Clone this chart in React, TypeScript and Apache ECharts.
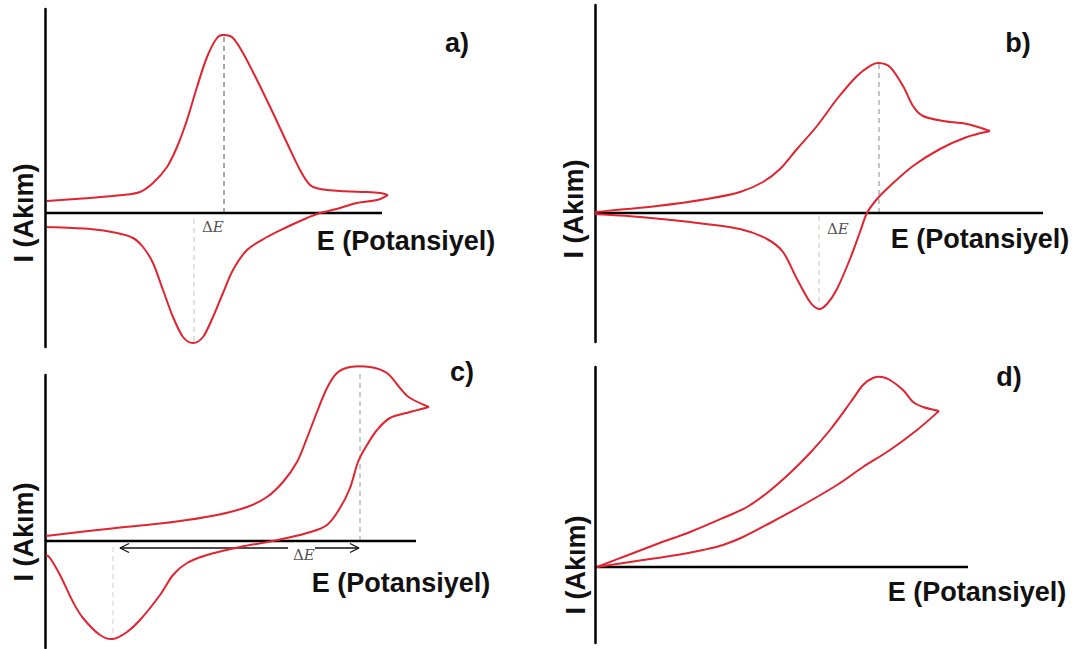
import React, { useEffect, useRef } from "react";
import * as echarts from "echarts";

// Panel a (units: arbitrary potential / current, origin at axis crossing)
const aForward = [[2,12],[45,15],[78,18],[95,21],[108,30],[122,46],[132,66],[142,93],[152,126],[162,156],[172,175],[179,178],[188,175],[198,160],[212,133],[228,100],[242,70],[255,43],[265,28],[275,24],[295,22],[322,21],[335,20],[343,18]];
const aReverse = [[343,18],[332,13],[312,10],[295,5],[275,0],[262,-5],[242,-14],[222,-24],[202,-37],[188,-57],[178,-80],[168,-104],[158,-124],[148,-130],[138,-124],[128,-104],[118,-77],[108,-50],[98,-34],[88,-25],[72,-20],[45,-16],[2,-14]];
const aPeakOx = [[179,0],[179,178]];
const aPeakRed = [[149,-6],[149,-130]];
const aDeltaE = [[157,-14]];
const aAxisEnd = 337;

// Panel b
const bForward = [[0,1],[62,7],[112,14],[145,21],[168,31],[185,44],[202,64],[222,87],[242,114],[262,137],[275,147],[283,150],[295,146],[308,127],[318,107],[328,97],[348,92],[372,89],[395,82]];
const bReverse = [[395,82],[372,76],[345,64],[318,47],[295,27],[282,14],[272,0],[265,-19],[255,-46],[242,-76],[232,-91],[224,-96],[215,-89],[202,-66],[188,-39],[172,-26],[145,-16],[95,-9],[45,-4],[0,-1]];
const bPeakOx = [[284,0],[284,149]];
const bPeakRed = [[224,-3],[224,-96]];
const bDeltaE = [[232,-16]];
const bAxisEnd = 448;

// Panel c
const cForward = [[1,5],[62,12],[128,19],[172,26],[202,34],[222,44],[238,59],[252,79],[262,103],[272,129],[282,153],[292,168],[305,174],[325,174],[342,168],[355,153],[365,143],[384,134]];
const cReverse = [[384,134],[365,129],[345,123],[332,111],[322,96],[313,79],[305,53],[295,33],[282,16],[262,8],[228,0],[195,-6],[162,-14],[142,-22],[128,-34],[115,-54],[95,-79],[82,-91],[68,-98],[55,-94],[38,-77],[28,-61],[15,-34],[5,-17],[1,-14]];
const cPeakOx = [[315,0],[315,168]];
const cPeakRed = [[68,-6],[68,-97]];
const cArrowLeft = [[75,-7],[243,-7]];
const cArrowRight = [[270,-7],[314,-7]];
const cDeltaE = [[248,-14]];
const cAxisEnd = 371;

// Panel d
const dForward = [[2,0],[28,10],[62,23],[95,35],[128,49],[152,60],[172,74],[195,94],[215,114],[235,137],[255,164],[268,182],[278,189],[287,190],[295,187],[308,177],[318,165],[328,160],[344,156]];
const dReverse = [[344,156],[322,137],[295,117],[268,100],[242,82],[208,62],[175,44],[148,30],[128,22],[108,17],[82,12],[48,7],[15,2],[2,0]];
const dAxisEnd = 373;

const panelLetters = ["a)", "b)", "c)", "d)"];
const xTitle = "E (Potansiyel)";
const yTitle = "I (Akım)";

function splinePath(pts: number[][]): string {
  const n = pts.length;
  let d = `M${pts[0][0]},${pts[0][1]}`;
  for (let i = 0; i < n - 1; i++) {
    const p0 = pts[Math.max(i - 1, 0)];
    const p1 = pts[i];
    const p2 = pts[i + 1];
    const p3 = pts[Math.min(i + 2, n - 1)];
    const c1x = p1[0] + (p2[0] - p0[0]) / 6;
    const c1y = p1[1] + (p2[1] - p0[1]) / 6;
    const c2x = p2[0] - (p3[0] - p1[0]) / 6;
    const c2y = p2[1] - (p3[1] - p1[1]) / 6;
    d += ` C${c1x},${c1y} ${c2x},${c2y} ${p2[0]},${p2[1]}`;
  }
  return d;
}

export default function App() {
  const ref = useRef<HTMLDivElement>(null);
  useEffect(() => {
    const chart = echarts.init(ref.current!, null, { renderer: "svg" });
    const RED = "#e02430";
    const axisEnds = [aAxisEnd, bAxisEnd, cAxisEnd, dAxisEnd];
    const xMax = [360, 460, 400, 390];
    const grids = [
      { left: 45, top: 9, width: 360, height: 338 },
      { left: 595, top: 5, width: 460, height: 337 },
      { left: 45, top: 375, width: 400, height: 273 },
      { left: 595, top: 367, width: 390, height: 276 },
    ];
    const yRange = [[-134, 204], [-129, 208], [-107, 166], [-76, 200]];
    const xAxis = grids.map((_, i) => ({
      type: "value", gridIndex: i, min: 0, max: xMax[i],
      axisLine: { show: false },
      axisTick: { show: false }, axisLabel: { show: false }, splitLine: { show: false },
    }));
    const yAxis = grids.map((_, i) => ({
      type: "value", gridIndex: i, min: yRange[i][0], max: yRange[i][1],
      axisLine: { show: true, onZero: false, lineStyle: { color: "#000", width: 2.5 } },
      axisTick: { show: false }, axisLabel: { show: false }, splitLine: { show: false },
    }));
    const curve = (data: number[][], i: number) => ({
      type: "custom", xAxisIndex: i, yAxisIndex: i, data, clip: false, z: 5,
      renderItem: (params: any, api: any) => {
        if (params.dataIndex !== 0) return null;
        const pts = data.map((p) => api.coord(p));
        return {
          type: "path",
          shape: { pathData: splinePath(pts) },
          style: { stroke: RED, fill: "none", lineWidth: 2, lineJoin: "round" },
        };
      },
    });
    const dashed = (data: number[][], i: number, color: string) => ({
      type: "line", xAxisIndex: i, yAxisIndex: i, data, symbol: "none", clip: false,
      lineStyle: { color, width: 1, type: [5, 4] }, z: 3,
    });
    const solid = (data: number[][], i: number, color: string, w: number) => ({
      type: "line", xAxisIndex: i, yAxisIndex: i, data, symbol: "none", clip: false,
      lineStyle: { color, width: w }, z: 4,
    });
    const deltaE = (data: number[][], i: number) => ({
      type: "scatter", xAxisIndex: i, yAxisIndex: i, data, symbolSize: 0, z: 6,
      label: {
        show: true, position: "right", distance: 0, formatter: "{d|Δ}{e|E}",
        rich: {
          d: { fontFamily: "DejaVu Serif", fontSize: 15, color: "#222" },
          e: { fontFamily: "DejaVu Serif", fontSize: 15, fontStyle: "italic", color: "#222" },
        },
      },
    });
    const head = (tip: number[], dir: number) => [
      [tip[0] - dir * 9, tip[1] + 4.5], tip, [tip[0] - dir * 9, tip[1] - 4.5],
    ];
    const series: any[] = [];
    axisEnds.forEach((end, i) => series.push(solid([[0, 0], [end, 0]], i, "#000", 2.5)));
    series.push(
      curve(aForward, 0), curve(aReverse, 0),
      dashed(aPeakOx, 0, "#555"), dashed(aPeakRed, 0, "#c4c4c4"), deltaE(aDeltaE, 0),
      curve(bForward, 1), curve(bReverse, 1),
      dashed(bPeakOx, 1, "#888"), dashed(bPeakRed, 1, "#c4c4c4"), deltaE(bDeltaE, 1),
      curve(cForward, 2), curve(cReverse, 2),
      dashed(cPeakOx, 2, "#999"), dashed(cPeakRed, 2, "#d0d0d0"),
      solid(cArrowLeft, 2, "#111", 1.3), solid(cArrowRight, 2, "#111", 1.3),
      solid(head(cArrowLeft[0], -1), 2, "#111", 1.3), solid(head(cArrowRight[1], 1), 2, "#111", 1.3),
      deltaE(cDeltaE, 2),
      curve(dForward, 3), curve(dReverse, 3),
    );
    const font = "bold 27px 'Liberation Sans', Arial, sans-serif";
    const letterPos = [[457, 43], [1018, 43], [462, 372], [1009, 377]];
    const xTitlePos = [[406, 241], [980, 239], [401, 583], [977, 592]];
    const yTitlePos = [[24, 213], [574, 209], [24, 532], [576, 565]];
    const graphic: any[] = [];
    for (let i = 0; i < 4; i++) {
      graphic.push({ type: "text", x: letterPos[i][0], y: letterPos[i][1], style: { text: panelLetters[i], font, fill: "#111", textAlign: "center", textVerticalAlign: "middle" } });
      graphic.push({ type: "text", x: xTitlePos[i][0], y: xTitlePos[i][1], style: { text: xTitle, font, fill: "#111", textAlign: "center", textVerticalAlign: "middle" } });
      graphic.push({ type: "text", x: yTitlePos[i][0], y: yTitlePos[i][1], rotation: Math.PI / 2, style: { text: yTitle, font, fill: "#111", textAlign: "center", textVerticalAlign: "middle" } });
    }
    chart.setOption({
      animation: false,
      backgroundColor: "#fff",
      grid: grids,
      xAxis, yAxis, series, graphic,
    });
    return () => chart.dispose();
  }, []);
  return <div ref={ref} style={{ position: "fixed", left: 0, top: 0, width: 1079, height: 649 }} />;
}
